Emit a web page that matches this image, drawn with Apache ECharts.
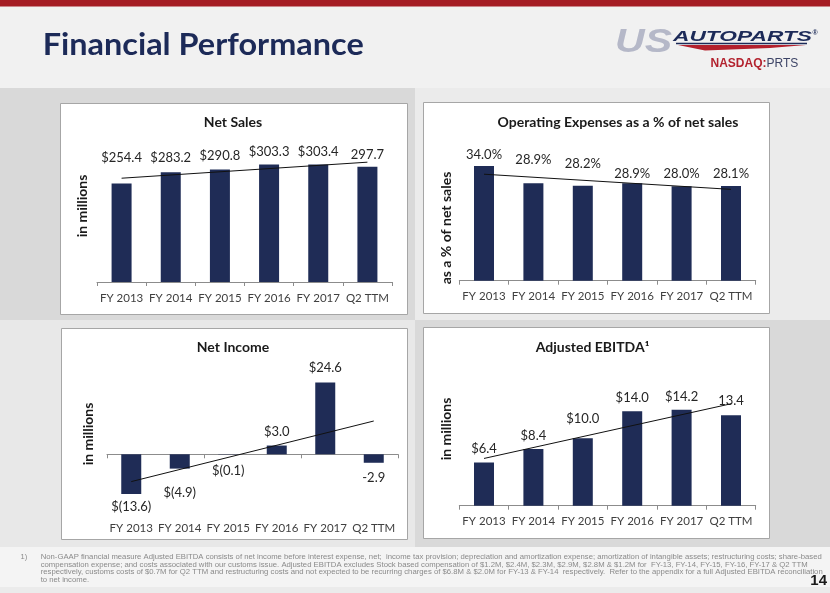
<!DOCTYPE html>
<html>
<head>
<meta charset="utf-8">
<script src="https://cdn.jsdelivr.net/npm/echarts@6/dist/echarts.min.js"></script>
<style>
html,body{margin:0;padding:0;background:#f1f1f1;}
#chart{width:830px;height:593px;}
</style>
</head>
<body>
<div id="chart"></div>
<script>
// ---------- DATA ----------
const categories = ['FY 2013', 'FY 2014', 'FY 2015', 'FY 2016', 'FY 2017', 'Q2 TTM'];

const netSales = [254.4, 283.2, 290.8, 303.3, 303.4, 297.7];
const netSalesLabels = ['$254.4', '$283.2', '$290.8', '$303.3', '$303.4', '297.7'];
const netSalesTrend = [268.1, 309.5];          // trend line at first / last category

const opex = [34.0, 28.9, 28.2, 28.9, 28.0, 28.1];
const opexLabels = ['34.0%', '28.9%', '28.2%', '28.9%', '28.0%', '28.1%'];
const opexTrend = [31.6, 27.1];

const netIncome = [-13.6, -4.9, -0.1, 3.0, 24.6, -2.9];
const netIncomeLabels = ['$(13.6)', '$(4.9)', '$(0.1)', '$3.0', '$24.6', '-2.9'];
const netIncomeTrend = [-9.35, 11.4];

const ebitda = [6.4, 8.4, 10.0, 14.0, 14.2, 13.4];
const ebitdaLabels = ['$6.4', '$8.4', '$10.0', '$14.0', '$14.2', '13.4'];
const ebitdaTrend = [7.0, 15.1];

const footnoteLines = [
  'Non-GAAP financial measure Adjusted EBITDA consists of net income before interest expense, net;  income tax provision; depreciation and amortization expense; amortization of intangible assets; restructuring costs; share-based',
  'compensation expense; and costs associated with our customs issue. Adjusted EBITDA excludes Stock based compensation of $1.2M, $2.4M, $2.3M, $2.9M, $2.8M & $1.2M for  FY-13, FY-14, FY-15, FY-16, FY-17 & Q2 TTM',
  'respectively, customs costs of $0.7M for Q2 TTM and restructuring costs and not expected to be recurring charges of $6.8M & $2.0M for FY-13 & FY-14  respectively.  Refer to the appendix for a full Adjusted EBITDA reconciliation',
  'to net income.'
];

// ---------- STYLE / LAYOUT ----------
const NAVY = '#1f2c56';
const FONT = 'Lato';
const panels = [
  { title: 'Net Sales', tx: 233, ty: 122, yName: 'in millions', nx: 82, ny: 206,
    box: [60, 103, 347, 211], grid: { left: 97, top: 146.5, width: 295, height: 135.5 },
    min: 0, max: 350, values: netSales, labels: netSalesLabels, trend: netSalesTrend,
    labelGap: [19, 8, 7, 6, 6, 5] },
  { title: 'Operating Expenses as a % of net sales', tx: 618, ty: 122, yName: 'as a % of net sales', nx: 446, ny: 228,
    box: [423, 102, 346, 211], grid: { left: 459.3, top: 145.9, width: 296.4, height: 134.8 },
    min: 0, max: 40, values: opex, labels: opexLabels, trend: opexTrend,
    labelGap: [5, 17, 15, 3, 6, 6] },
  { title: 'Net Income', tx: 233, ty: 347, yName: 'in millions', nx: 88, ny: 434,
    box: [61, 328, 346, 211], grid: { left: 107, top: 366.7, width: 291, height: 146 },
    min: -20, max: 30, values: netIncome, labels: netIncomeLabels, trend: netIncomeTrend,
    labelGap: [6, 18, 10, 7, 8, 9], zeroLine: true },
  { title: 'Adjusted EBITDA\u00B9', tx: 592.5, ty: 347, yName: 'in millions', nx: 446, ny: 429,
    box: [423, 327, 346, 211], grid: { left: 459.3, top: 370.7, width: 296.4, height: 135 },
    min: 0, max: 20, values: ebitda, labels: ebitdaLabels, trend: ebitdaTrend,
    labelGap: [7, 7, 13, 7, 7, 8] }
];

function trendData(t) {
  const d = categories.map(() => null);
  d[0] = t[0];
  d[d.length - 1] = t[1];
  return d;
}

const measureCtx = document.createElement('canvas').getContext('2d');
function textWidth(text, font) { measureCtx.font = font; return measureCtx.measureText(text).width; }
function fitText(text, font, x, y, targetW, fill, extra) {
  const w = textWidth(text, font);
  return Object.assign({
    type: 'text', x: x, y: y, scaleX: targetW / w, originX: 0, originY: 0,
    style: { text: text, font: font, fill: fill, align: 'left', verticalAlign: 'middle',
             textAlign: 'left', textVerticalAlign: 'middle' }
  }, extra || {});
}
function txt(text, x, y, font, fill, align, rotation) {
  return { type: 'text', x: x, y: y, rotation: rotation || 0,
    style: { text: text, font: font, fill: fill, align: align || 'center', verticalAlign: 'middle',
             textAlign: align || 'center', textVerticalAlign: 'middle' } };
}

const axisColor = '#8c8c8c';
const grids = [], xAxes = [], yAxes = [], series = [];
panels.forEach((p, i) => {
  grids.push(Object.assign({ containLabel: false }, p.grid));
  xAxes.push({
    type: 'category', gridIndex: i, data: categories, position: 'bottom',
    axisLine: { show: !p.zeroLine, onZero: false, lineStyle: { color: axisColor, width: 1 } },
    axisTick: { show: !p.zeroLine, length: 4, lineStyle: { color: axisColor } },
    axisLabel: { fontFamily: FONT, fontSize: 11.5, color: '#404040', margin: 10, interval: 0 },
    splitLine: { show: false }
  });
  yAxes.push({ type: 'value', gridIndex: i, min: p.min, max: p.max, show: false, splitLine: { show: false } });
  series.push({
    type: 'bar', xAxisIndex: i, yAxisIndex: i, barWidth: 20,
    itemStyle: { color: NAVY },
    data: p.values.map((v, k) => ({ value: v, label: { position: v < 0 ? 'bottom' : 'top', distance: p.labelGap[k] } })),
    label: { show: true, fontFamily: FONT, fontSize: 13, color: '#262626',
             formatter: (prm) => p.labels[prm.dataIndex] },
    silent: true, animation: false
  });
  series.push({
    type: 'line', xAxisIndex: i, yAxisIndex: i, data: trendData(p.trend), connectNulls: true,
    symbol: 'none', lineStyle: { color: '#111', width: 1 }, z: 5, silent: true, animation: false
  });
});
// zero line axis for Net Income
xAxes.push({
  type: 'category', gridIndex: 2, data: categories, position: 'top',
  axisLine: { show: true, onZero: true, lineStyle: { color: axisColor, width: 1 } },
  axisTick: { show: true, inside: true, length: 4, lineStyle: { color: axisColor } },
  axisLabel: { show: false }, splitLine: { show: false }
});

// ---------- GRAPHIC (background, boxes, texts) ----------
const graphics = [];
// header & page background
graphics.push({ type: 'rect', z: -20, shape: { x: 0, y: 0, width: 830, height: 593 }, style: { fill: '#f1f1f1' } });
graphics.push({ type: 'rect', z: -19, shape: { x: 0, y: 0, width: 830, height: 6.5 }, style: { fill: '#a51d24' } });
// quadrant bands
graphics.push({ type: 'rect', z: -19, shape: { x: 0, y: 88, width: 415, height: 232 }, style: { fill: '#d9d9d9' } });
graphics.push({ type: 'rect', z: -19, shape: { x: 415, y: 88, width: 415, height: 232 }, style: { fill: '#ebebeb' } });
graphics.push({ type: 'rect', z: -19, shape: { x: 0, y: 320, width: 415, height: 227 }, style: { fill: '#e8e8e8' } });
graphics.push({ type: 'rect', z: -19, shape: { x: 415, y: 320, width: 415, height: 227 }, style: { fill: '#d9d9d9' } });
// footer band
graphics.push({ type: 'rect', z: -19, shape: { x: 0, y: 547, width: 830, height: 40 }, style: { fill: '#f4f4f4' } });
graphics.push({ type: 'rect', z: -19, shape: { x: 0, y: 587, width: 830, height: 6 }, style: { fill: '#ebebeb' } });

panels.forEach((p) => {
  graphics.push({ type: 'rect', z: -10, shape: { x: p.box[0] + 0.5, y: p.box[1] + 0.5, width: p.box[2], height: p.box[3] },
    style: { fill: '#ffffff', stroke: '#a6a6a6', lineWidth: 1 } });
  graphics.push(txt(p.title, p.tx, p.ty, 'bold 14px ' + FONT, '#1a1a1a'));
  graphics.push(txt(p.yName, p.nx, p.ny, 'bold 14px ' + FONT, '#1a1a1a', 'center', Math.PI / 2));
});

// Slide title
graphics.push(fitText('Financial Performance', 'bold 30px ' + FONT, 42.7, 45.5, 321, '#1c2a58'));

// Logo
graphics.push(fitText('US', 'italic bold 34px "Liberation Sans"', 615, 43, 57, '#b5b8c8'));
graphics.push(fitText('AUTOPARTS', 'italic bold 14px "Liberation Sans"', 673, 37, 139, '#1c2a58'));
graphics.push({ type: 'line', shape: { x1: 676, y1: 43.5, x2: 807, y2: 43.5 }, style: { stroke: '#1c2a58', lineWidth: 1.3 } });
graphics.push({ type: 'polygon', shape: { points: [[678, 45], [806, 45], [770, 48], [705, 50.5]] }, style: { fill: '#b3202c' } });
graphics.push(txt('\u00AE', 815, 33, 'bold 7px "Liberation Sans"', '#1c2a58'));
graphics.push({ type: 'text', x: 710.5, y: 64,
  style: { text: '{a|NASDAQ:}{b|PRTS}', align: 'left', verticalAlign: 'middle', textAlign: 'left', textVerticalAlign: 'middle',
    rich: { a: { font: 'bold 12px "Liberation Sans"', fill: '#b3232f' },
            b: { font: '12px "Liberation Sans"', fill: '#3d4466' } } } });

// Footnote
const fnFont = '7.5px "Liberation Sans"';
const fnTargets = [781, 767, 782];
const baseScale = fnTargets[0] / textWidth(footnoteLines[0], fnFont);
graphics.push(txt('1)', 20.5, 556.7, fnFont, '#8a8a8a', 'left'));
footnoteLines.forEach((line, k) => {
  const y = 556.7 + k * 7.8;
  if (k < 3) graphics.push(fitText(line, fnFont, 40.7, y, fnTargets[k], '#8a8a8a'));
  else graphics.push(Object.assign(txt(line, 40.7, y, fnFont, '#8a8a8a', 'left'), { scaleX: baseScale }));
});
graphics.push(txt('14', 827, 580.5, 'bold 15px "Liberation Sans"', '#1a1a1a', 'right'));

const chart = echarts.init(document.getElementById('chart'), null, { renderer: 'canvas' });
chart.setOption({
  animation: false,
  backgroundColor: '#f1f1f1',
  grid: grids,
  xAxis: xAxes,
  yAxis: yAxes,
  series: series,
  graphic: { elements: graphics }
});
</script>
</body>
</html>
